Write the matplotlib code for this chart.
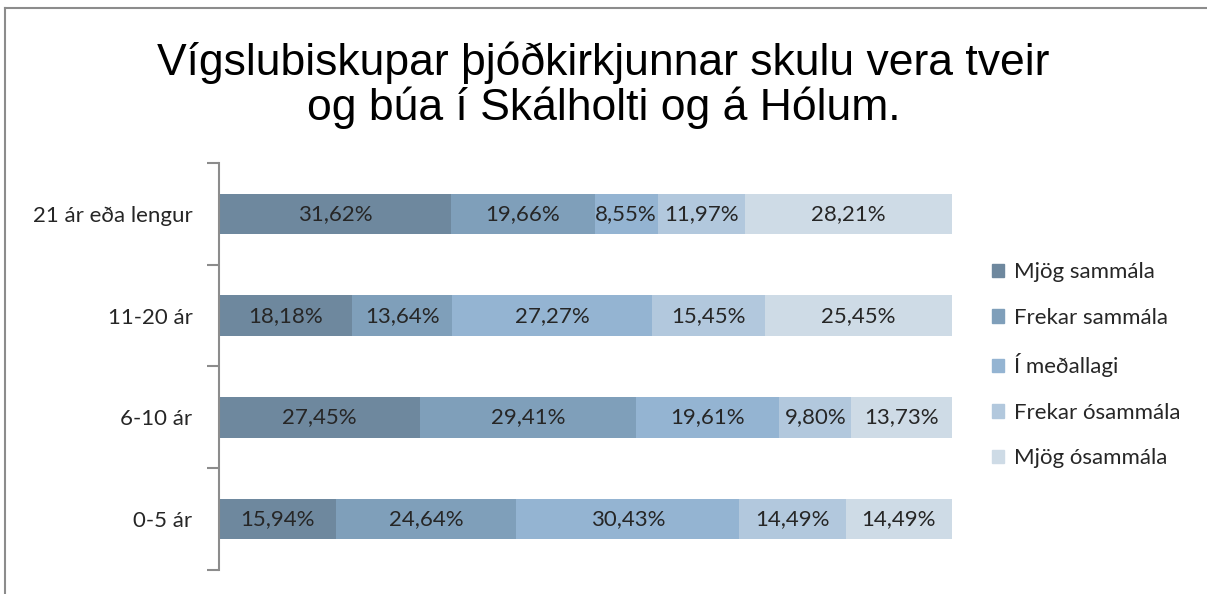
import numpy as np
import matplotlib.pyplot as plt
from matplotlib.patches import Rectangle
from matplotlib.lines import Line2D

groups = ['0-5 ár', '6-10 ár', '11-20 ár', '21 ár eða lengur']
series = ['Mjög sammála', 'Frekar sammála', 'Í meðallagi', 'Frekar ósammála', 'Mjög ósammála']
mjog_sammala = [15.94, 27.45, 18.18, 31.62]
frekar_sammala = [24.64, 29.41, 13.64, 19.66]
i_medallagi = [30.43, 19.61, 27.27, 8.55]
frekar_osammala = [14.49, 9.80, 15.45, 11.97]
mjog_osammala = [14.49, 13.73, 25.45, 28.21]
colors = ['#6e889e', '#7f9fba', '#94b4d2', '#b2c8dd', '#cedbe6']

title = 'Vígslubiskupar þjóðkirkjunnar skulu vera tveir\nog búa í Skálholti og á Hólum.'

fig = plt.figure(figsize=(12.07, 5.94), dpi=100)

# outer chart frame (partly cut off in the original)
fig.add_artist(Line2D([0.004, 0.004], [0.0, 0.987], color='#8c8c8c', lw=1.5, transform=fig.transFigure))
fig.add_artist(Line2D([0.004, 1.0], [0.987, 0.987], color='#8c8c8c', lw=1.5, transform=fig.transFigure))

ax = fig.add_axes([0.1814, 0.0404, 0.6073, 0.6852])

data = [mjog_sammala, frekar_sammala, i_medallagi, frekar_osammala, mjog_osammala]
y = np.arange(len(groups))
left = np.zeros(len(groups))
for name, vals, c in zip(series, data, colors):
    vals = np.array(vals)
    ax.barh(y, vals, left=left, height=0.4, color=c, label=name)
    for yi, l, v in zip(y, left, vals):
        ax.text(l + v / 2, yi, f'{v:.2f}%'.replace('.', ','), ha='center', va='center',
                fontsize=16, family='Lato', color='#262626')
    left += vals

ax.set_xlim(0, 100)
ax.set_ylim(-0.5, 3.5)
ax.set_yticks(np.arange(-0.5, 4.0, 1.0))
ax.set_yticklabels([])
ax.set_yticks(y, minor=True)
ax.set_yticklabels(groups, minor=True, fontsize=16, family='Lato', color='#262626')
ax.tick_params(axis='y', which='major', length=9, width=1.5, color='#8c8c8c')
ax.tick_params(axis='y', which='minor', length=0, pad=19)
ax.set_xticks([])
for s in ['top', 'right', 'bottom']:
    ax.spines[s].set_visible(False)
ax.spines['left'].set_color('#8c8c8c')
ax.spines['left'].set_linewidth(1.5)

fig.text(0.5, 0.857, title, ha='center', va='center', fontsize=32,
         family='Liberation Sans', linespacing=1.07)

handles = [Rectangle((0, 0), 1, 1, color=c) for c in colors]
fig.legend(handles, series, loc='center left', bbox_to_anchor=(0.805, 0.385),
           frameon=False, prop={'family': 'Lato', 'size': 16},
           handlelength=0.55, handleheight=0.55, handletextpad=0.45, labelspacing=1.15,
           labelcolor='#262626')

fig.savefig('out.png', dpi=100)
